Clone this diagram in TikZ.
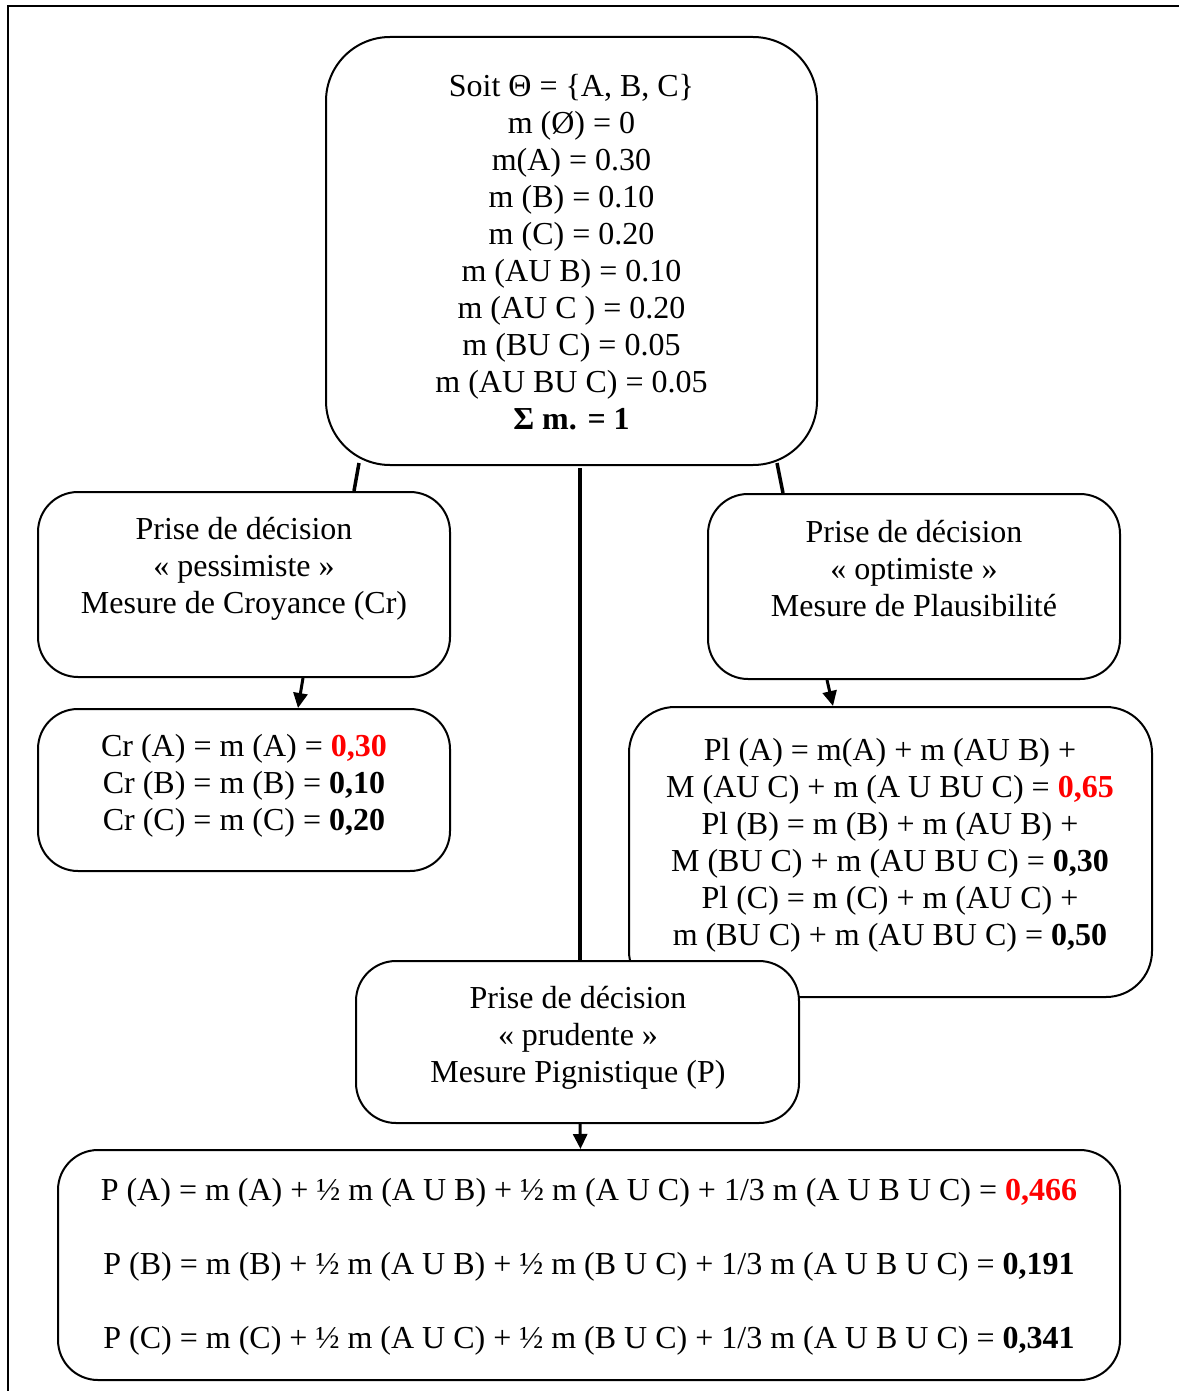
\documentclass[tikz,border=0pt]{standalone}
\usepackage{fontspec}
\setmainfont{Liberation Serif}
\usetikzlibrary{calc,arrows.meta}
\definecolor{hot}{RGB}{255,0,0}
\newcommand\hl[1]{\textcolor{hot}{\textbf{#1}}}
\begin{document}
\begin{tikzpicture}[x=0.5pt,y=-0.5pt,
  box/.style={draw,line width=1pt,rounded corners=#1,fill=white,inner sep=0pt},
  box/.default=20pt,
  txt/.style={align=center,font=\fontsize{16}{18.5}\selectfont,inner sep=0pt},
  link/.style={line width=1.75pt},
  arr/.style={line width=1.5pt,-{Triangle[width=7pt,length=7.5pt]}}]
\useasboundingbox (0,0) rectangle (1179,1391);
% frame
\coordinate (fa) at (8,1391);
\coordinate (fb) at (8,6);
\coordinate (fc) at (1179,6);
\draw[line width=1pt] (fa) -- (fb) -- (fc);

% boxes
\node[box=32pt,minimum width=245.5pt,minimum height=214pt] (top) at (571.5,251) {};
\node[box,minimum width=206pt,minimum height=92.5pt] (lbox) at (244,584.5) {};
\node[box,minimum width=206pt,minimum height=92.5pt] (rbox) at (914,586.5) {};
\node[box,minimum width=206pt,minimum height=81pt] (lres) at (244,790) {};
\node[box=23pt,minimum width=261.5pt,minimum height=145pt] (rres) at (890.5,852) {};
\node[box,minimum width=221.5pt,minimum height=81pt] (mid) at (577.5,1042) {};
\node[box,minimum width=531pt,minimum height=115pt] (bot) at (589,1265) {};

% texts
\node[txt] (tT) at (571.5,252) {Soit Θ = \{A, B, C\}\\ m (Ø) = 0\\ m(A) = 0.30\\ m (B) = 0.10\\ m (C) = 0.20\\ m (AU B) = 0.10\\ m (AU C ) = 0.20\\ m (BU C) = 0.05\\ m (AU BU C) = 0.05\\ \textbf{Σ m. = 1}};
\node[txt] (tL) at (244,569) {Prise de décision\\ « pessimiste »\\ Mesure de Croyance (Cr)};
\node[txt] (tR) at (914,569) {Prise de décision\\ « optimiste »\\ Mesure de Plausibilité};
\node[txt] (tLR) at (244,786) {Cr (A) = m (A) = \hl{0,30}\\ Cr (B) = m (B) = \textbf{0,10}\\ Cr (C) = m (C) = \textbf{0,20}};
\node[txt] (tRR) at (890,845.5) {Pl (A) = m(A) + m (AU B) +\\ M (AU C) + m (A U BU C) = \hl{0,65}\\ Pl (B) = m (B) + m (AU B) +\\ M (BU C) + m (AU BU C) = \textbf{0,30}\\ Pl (C) = m (C) + m (AU C) +\\ m (BU C) + m (AU BU C) = \textbf{0,50}};
\node[txt] (tM) at (578,1038) {Prise de décision\\ « prudente »\\ Mesure Pignistique (P)};
\node[txt] (tB) at (589,1267) {P (A) = m (A) + ½ m (A U B) + ½ m (A U C) + 1/3 m (A U B U C) = \hl{0,466}\\[18.5pt] P (B) = m (B) + ½ m (A U B) + ½ m (B U C) + 1/3 m (A U B U C) = \textbf{0,191}\\[18.5pt] P (C) = m (C) + ½ m (A U C) + ½ m (B U C) + 1/3 m (A U B U C) = \textbf{0,341}};

% connectors
\draw[link] ($(top.south west)+(34,-3)$) -- ($(lbox.north west)+(317,0)$);
\draw[link] ($(top.south)+(8.5,2)$) -- ($(mid.north)+(2.5,0)$);
\draw[link] ($(top.south east)+(-41,-3)$) -- ($(rbox.north west)+(76,0)$);
\draw[arr] ($(lbox.south)+(59,0)$) -- ($(lres.north)+(54,0)$);
\draw[arr] ($(rbox.south west)+(120,0)$) -- ($(rres.north west)+(205,0)$);
\draw[arr] ($(mid.south)+(2.5,0)$) -- ($(bot.north)+(-8.5,0)$);
\end{tikzpicture}
\end{document}
